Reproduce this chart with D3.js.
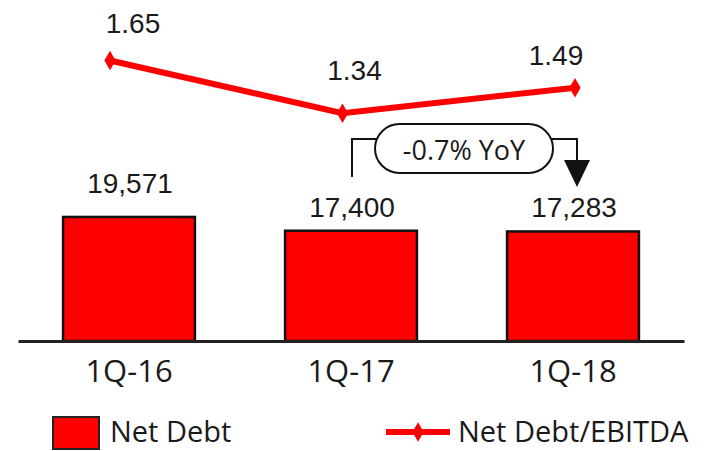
<!DOCTYPE html>
<html>
<head>
<meta charset="utf-8">
<script src="https://cdn.jsdelivr.net/npm/d3@7"></script>
<style>
  body { margin: 0; background: #fff; }
  svg { display: block; }
</style>
</head>
<body>
<div class="visHolder"></div>
<script>
const categories = ['1Q-16', '1Q-17', '1Q-18'];
const netDebt = [19571, 17400, 17283];
const netDebtEbitda = [1.65, 1.34, 1.49];
const yoyLabel = '-0.7% YoY';

const width = 713;
const height = 451;
const baseY = 341;

const svg = d3.select('.visHolder')
  .append('svg')
  .attr('width', width)
  .attr('height', height);

const xScale = d3.scaleBand()
  .domain(categories)
  .range([18, 684])
  .paddingInner(0.406)
  .paddingOuter(0.203);

// line markers sit a bit off the bar centres in the original
const xLine = d3.scalePoint()
  .domain(categories)
  .range([110, 575]);

const yBar = d3.scaleLinear().domain([0, 53800]).range([baseY, 0]);
const yLine = d3.scaleLinear().domain([0, 2]).range([baseY, 1]);

// bars
svg.selectAll('rect.bar')
  .data(netDebt)
  .enter()
  .append('rect')
  .attr('class', 'bar')
  .attr('x', (d, i) => xScale(categories[i]))
  .attr('y', d => yBar(d))
  .attr('width', xScale.bandwidth())
  .attr('height', d => baseY - yBar(d))
  .style('fill', '#ff0000')
  .style('stroke', '#111')
  .style('stroke-width', 2.5);

// x axis
const xAxis = d3.axisBottom(xScale).tickSize(0).tickPadding(0);
const gx = svg.append('g')
  .attr('transform', `translate(0, ${baseY})`)
  .call(xAxis);
gx.select('.domain').attr('stroke', '#222').attr('stroke-width', 3);
gx.selectAll('text')
  .attr('dy', 0)
  .attr('y', 41)
  .style('font-family', '"Open Sans", sans-serif')
  .style('font-size', '31px')
  .style('fill', '#1a1a1a');

// bar labels
const barLabelGap = [24, 14, 14];
svg.selectAll('text.barLabel')
  .data(netDebt)
  .enter()
  .append('text')
  .attr('class', 'barLabel')
  .attr('x', (d, i) => xScale(categories[i]) + xScale.bandwidth() / 2 + 1)
  .attr('y', (d, i) => yBar(d) - barLabelGap[i])
  .attr('text-anchor', 'middle')
  .style('font-family', '"Liberation Sans", Arial, sans-serif')
  .style('font-size', '28px')
  .style('fill', '#1a1a1a')
  .text(d => d3.format(',')(d));

// ratio line
const line = d3.line()
  .x((d, i) => xLine(categories[i]))
  .y(d => yLine(d));

svg.append('path')
  .datum(netDebtEbitda)
  .attr('d', line)
  .style('fill', 'none')
  .style('stroke', '#ff0000')
  .style('stroke-width', 6);

svg.selectAll('path.marker')
  .data(netDebtEbitda)
  .enter()
  .append('path')
  .attr('class', 'marker')
  .attr('d', d3.symbol().type(d3.symbolDiamond).size(110))
  .attr('transform', (d, i) => `translate(${xLine(categories[i])}, ${yLine(d)})`)
  .style('fill', '#ff0000');

const lineLabelDx = [23, 12, -19];
const lineLabelDy = [-28, -33, -23];
svg.selectAll('text.lineLabel')
  .data(netDebtEbitda)
  .enter()
  .append('text')
  .attr('class', 'lineLabel')
  .attr('x', (d, i) => xLine(categories[i]) + lineLabelDx[i])
  .attr('y', (d, i) => yLine(d) + lineLabelDy[i])
  .attr('text-anchor', 'middle')
  .style('font-family', '"Liberation Sans", Arial, sans-serif')
  .style('font-size', '28px')
  .style('fill', '#1a1a1a')
  .text(d => d.toFixed(2));

// YoY callout
const callout = svg.append('g');
const leftX = 352, rightX = 577, bracketY = 139;
callout.append('path')
  .attr('d', `M${leftX},177 V${bracketY} H${rightX} V162`)
  .style('fill', 'none')
  .style('stroke', '#111')
  .style('stroke-width', 2);
callout.append('path')
  .attr('d', `M564,160 L590,160 L${rightX},187 Z`)
  .style('fill', '#111');
callout.append('rect')
  .attr('x', 375)
  .attr('y', 124)
  .attr('width', 178)
  .attr('height', 49)
  .attr('rx', 24.5)
  .style('fill', '#fff')
  .style('stroke', '#111')
  .style('stroke-width', 2);
callout.append('text')
  .attr('x', 464)
  .attr('y', 160)
  .attr('text-anchor', 'middle')
  .style('font-family', '"Open Sans", sans-serif')
  .style('font-size', '27px')
  .style('fill', '#1a1a1a')
  .text(yoyLabel);

// legend
const legend = svg.append('g');
legend.append('rect')
  .attr('x', 53).attr('y', 417).attr('width', 46).attr('height', 32)
  .style('fill', '#ff0000').style('stroke', '#222').style('stroke-width', 2);
legend.append('text')
  .attr('x', 110).attr('y', 442)
  .style('font-family', '"Open Sans", sans-serif')
  .style('font-size', '29px')
  .style('fill', '#1a1a1a')
  .text('Net Debt');
legend.append('line')
  .attr('x1', 386).attr('x2', 450).attr('y1', 432).attr('y2', 432)
  .style('stroke', '#ff0000').style('stroke-width', 6);
legend.append('path')
  .attr('d', d3.symbol().type(d3.symbolDiamond).size(110))
  .attr('transform', 'translate(418, 432)')
  .style('fill', '#ff0000');
legend.append('text')
  .attr('x', 458).attr('y', 442)
  .style('font-family', '"Open Sans", sans-serif')
  .style('font-size', '29px')
  .style('fill', '#1a1a1a')
  .text('Net Debt/EBITDA');
</script>
</body>
</html>
